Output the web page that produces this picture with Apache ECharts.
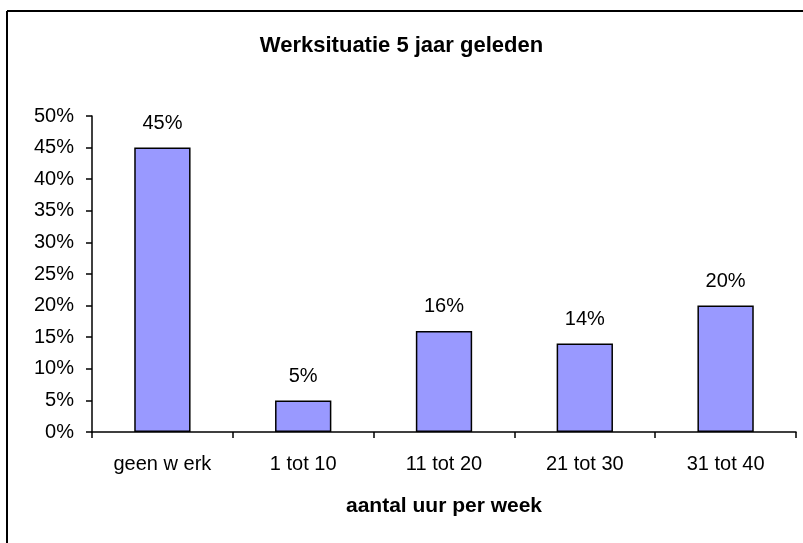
<!DOCTYPE html>
<html>
<head>
<meta charset="utf-8">
<script src="https://cdn.jsdelivr.net/npm/echarts@6/dist/echarts.min.js"></script>
<style>
html, body { margin: 0; padding: 0; background: #fff; }
#chart { width: 803px; height: 543px; }
</style>
</head>
<body>
<div id="chart"></div>
<script>
var categories = ['geen w erk', '1 tot 10', '11 tot 20', '21 tot 30', '31 tot 40'];
var percentages = [45, 5, 16, 14, 20];
var yTicks = { min: 0, max: 50, step: 5 };

var font = '"Liberation Sans", Arial, sans-serif';

var chart = echarts.init(document.getElementById('chart'));

chart.setOption({
	backgroundColor: '#fff',
	animation: false,
	title: {
		text: 'Werksituatie 5 jaar geleden',
		left: 'center',
		top: 30,
		textStyle: { fontFamily: font, fontSize: 22, fontWeight: 'bold', color: '#000' }
	},
	graphic: [
		{ type: 'line', shape: { x1: 7, y1: 11, x2: 803, y2: 11 }, style: { stroke: '#000', lineWidth: 2 } },
		{ type: 'line', shape: { x1: 7, y1: 11, x2: 7, y2: 543 }, style: { stroke: '#000', lineWidth: 2 } }
	],
	grid: { left: 92, right: 7, top: 116, bottom: 111 },
	xAxis: {
		type: 'category',
		data: categories,
		name: 'aantal uur per week',
		nameLocation: 'middle',
		nameGap: 64,
		nameTextStyle: { fontFamily: font, fontSize: 21, fontWeight: 'bold', color: '#000' },
		axisLine: { lineStyle: { color: '#000', width: 1.5 } },
		axisTick: { show: true, length: 6, inside: false, lineStyle: { color: '#000', width: 1.5 } },
		axisLabel: { fontFamily: font, fontSize: 20, color: '#000', margin: 22 }
	},
	yAxis: {
		type: 'value',
		min: yTicks.min,
		max: yTicks.max,
		interval: yTicks.step,
		splitLine: { show: false },
		axisLine: { show: true, lineStyle: { color: '#000', width: 1.5 } },
		axisTick: { show: true, length: 6, lineStyle: { color: '#000', width: 1.5 } },
		axisLabel: { fontFamily: font, fontSize: 20, color: '#000', margin: 18, formatter: '{value}%' }
	},
	series: [{
		type: 'bar',
		data: percentages,
		barWidth: '40%',
		itemStyle: { color: '#9999FF', borderColor: '#000', borderWidth: 1.5 },
		label: {
			show: true,
			position: 'top',
			distance: 14,
			formatter: '{c}%',
			fontFamily: font,
			fontSize: 20,
			color: '#000'
		}
	}]
});
</script>
</body>
</html>
